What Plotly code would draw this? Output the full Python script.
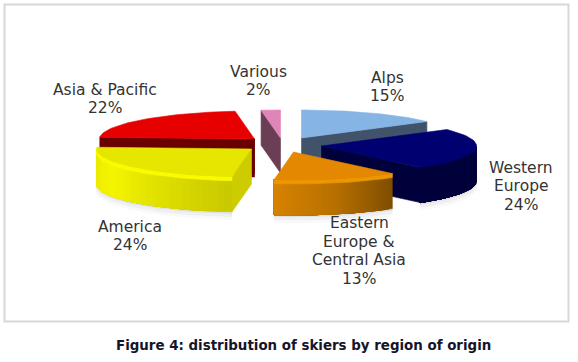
import math
import plotly.graph_objects as go

# ---- data -------------------------------------------------------------
regions = ["Alps", "Western Europe", "Eastern Europe & Central Asia", "America", "Asia & Pacific", "Various"]
label_lines = [["Alps"], ["Western", "Europe"], ["Eastern", "Europe &", "Central Asia"], ["America"], ["Asia & Pacific"], ["Various"]]
shares = [15, 24, 13, 24, 22, 2]
caption = "Figure 4: distribution of skiers by region of origin"

# ---- style: explosion offset of every slice, colours, label anchors ----
CENTRE = (277.5, 141)
pull_x = [24, 44, 16, -26, -23, 3]
pull_y = [-3, 5, 11, 8, -2, -3]
RX, RY, DEPTH = 155, 28, 35
top_colors = ["#85B4E5", "#000070", "#E38800", "#E6E600", "#E60000", "#E085B8"]
cut_colors = ["#40536B", "#00003B", None, "#CCCC00", "#6B0000", "#6A3F55"]
side_stops = [None, ["#00003B", "#00003B"], ["#D88300", "#B87000", "#7F4E00"],
              ["#E8E800", "#F5F500", "#E0E000", "#C9C900"], None, None]
bevel_colors = [None, None, "#EE9600", "#FBFB00", None, None]
label_pos = [(387, 87), (521, 186), (359, 251), (130, 236), (105, 99), (258, 81)]
LINE_STEP = 18.5
TEXT = "#333333"
FONT = "DejaVu Sans"

fig = go.Figure()


def poly(xs, ys, color):
    fig.add_trace(go.Scatter(x=xs + xs[:1], y=ys + ys[:1], mode="lines", fill="toself",
                             fillcolor=color, line=dict(color=color, width=0.6),
                             hoverinfo="skip", showlegend=False))


def pt(i, deg, dy=0):
    a = math.radians(deg)
    return (CENTRE[0] + pull_x[i] + RX * math.sin(a),
            CENTRE[1] + pull_y[i] - RY * math.cos(a) + dy)


def apex(i, dy=0):
    return CENTRE[0] + pull_x[i], CENTRE[1] + pull_y[i] + dy


def arc(i, a0, a1, dy=0, n=40):
    p = [pt(i, a0 + (a1 - a0) * k / n, dy) for k in range(n + 1)]
    return [q[0] for q in p], [q[1] for q in p]


def mix(stops, t):
    t = min(max(t, 0), 1) * (len(stops) - 1)
    j = min(int(t), len(stops) - 2)
    f = t - j
    a, b = stops[j], stops[j + 1]
    ca = [int(a[k:k + 2], 16) for k in (1, 3, 5)]
    cb = [int(b[k:k + 2], 16) for k in (1, 3, 5)]
    return "#%02x%02x%02x" % tuple(round(u + (v - u) * f) for u, v in zip(ca, cb))


# slice angles from the values
total = sum(shares)
bounds = []
run = 0
for v in shares:
    bounds.append((run * 360 / total, (run + v) * 360 / total))
    run += v


def shadow(i):
    a0, a1 = bounds[i]
    a0, a1 = max(a0, 90), min(a1, 270)
    for grow, alpha in ((8, 0.025), (5, 0.035), (2, 0.05)):
        x, y = arc(i, a0, a1, DEPTH + grow)
        x2, y2 = arc(i, a1, a0, DEPTH - 6)
        poly(x + x2, y + y2, f"rgba(0,0,0,{alpha})")


def cut(i, deg):
    ax, ay = apex(i)
    ox, oy = pt(i, deg)
    poly([ax, ox, ox, ax], [ay, oy, oy + DEPTH, ay + DEPTH], cut_colors[i])


def side(i):
    a0, a1 = bounds[i]
    a0, a1 = max(a0, 90), min(a1, 270)
    stops = side_stops[i]
    # painted from the far end with a small overlap so no seams show
    n = 30
    step = (a1 - a0) / n
    for k in range(n):
        b0 = a0 + step * k
        x, y = arc(i, b0, a1, 0, 30)
        x2, y2 = arc(i, a1, b0, DEPTH, 30)
        poly(x + x2, y + y2, mix(stops[::-1], (b0 - a0) / (a1 - a0)))
    if bevel_colors[i]:
        x, y = arc(i, a0, a1, 0)
        x2, y2 = arc(i, a1, a0, 4)
        poly(x + x2, y + y2, bevel_colors[i])


def top(i):
    a0, a1 = bounds[i]
    ax, ay = apex(i)
    x, y = arc(i, a0, a1)
    poly([ax] + x, [ay] + y, top_colors[i])


A, W, E, M, P, V = range(6)
for i in (M, E, W):
    shadow(i)

# Alps, then Asia, Various, Western Europe, America, Eastern Europe: back to front
cut(A, bounds[A][1]); top(A)
cut(P, bounds[P][0])
ax, ay = apex(P)
top(P)
poly([ax - 3, ax, ax, ax - 3], [ay, ay, ay + DEPTH + 3, ay + DEPTH + 3], cut_colors[P])
cut(V, bounds[V][0]); top(V)
cut(W, bounds[W][1]); side(W); top(W)
cut(M, bounds[M][0]); side(M); top(M)
side(E); top(E)

annotations = []
for lines, v, (lx, ly) in zip(label_lines, shares, label_pos):
    rows = lines + [f"{v}%"]
    for r, row in enumerate(rows):
        annotations.append(dict(x=lx, y=ly + (r - (len(rows) - 1) / 2) * LINE_STEP, text=row,
                                showarrow=False, xanchor="center", yanchor="middle",
                                font=dict(family=FONT, size=15.5, color=TEXT)))
annotations.append(dict(x=303, y=345, text=f"<b>{caption}</b>", showarrow=False, xanchor="center",
                        yanchor="middle", font=dict(family=FONT, size=13.4, color="#14142a")))

fig.update_layout(
    width=578, height=362, margin=dict(l=0, r=0, t=0, b=0),
    paper_bgcolor="white", plot_bgcolor="white", showlegend=False,
    xaxis=dict(range=[0, 578], visible=False, fixedrange=True),
    yaxis=dict(range=[362, 0], visible=False, fixedrange=True),
    annotations=annotations,
    shapes=[dict(type="rect", x0=4.5, y0=4.5, x1=568.5, y1=321.5, layer="below",
                 line=dict(color="#D8D8D8", width=2))],
)
fig.write_html("out.html", config=dict(displayModeBar=False),
               post_script="document.body.style.margin='0';document.body.style.overflow='hidden';")
